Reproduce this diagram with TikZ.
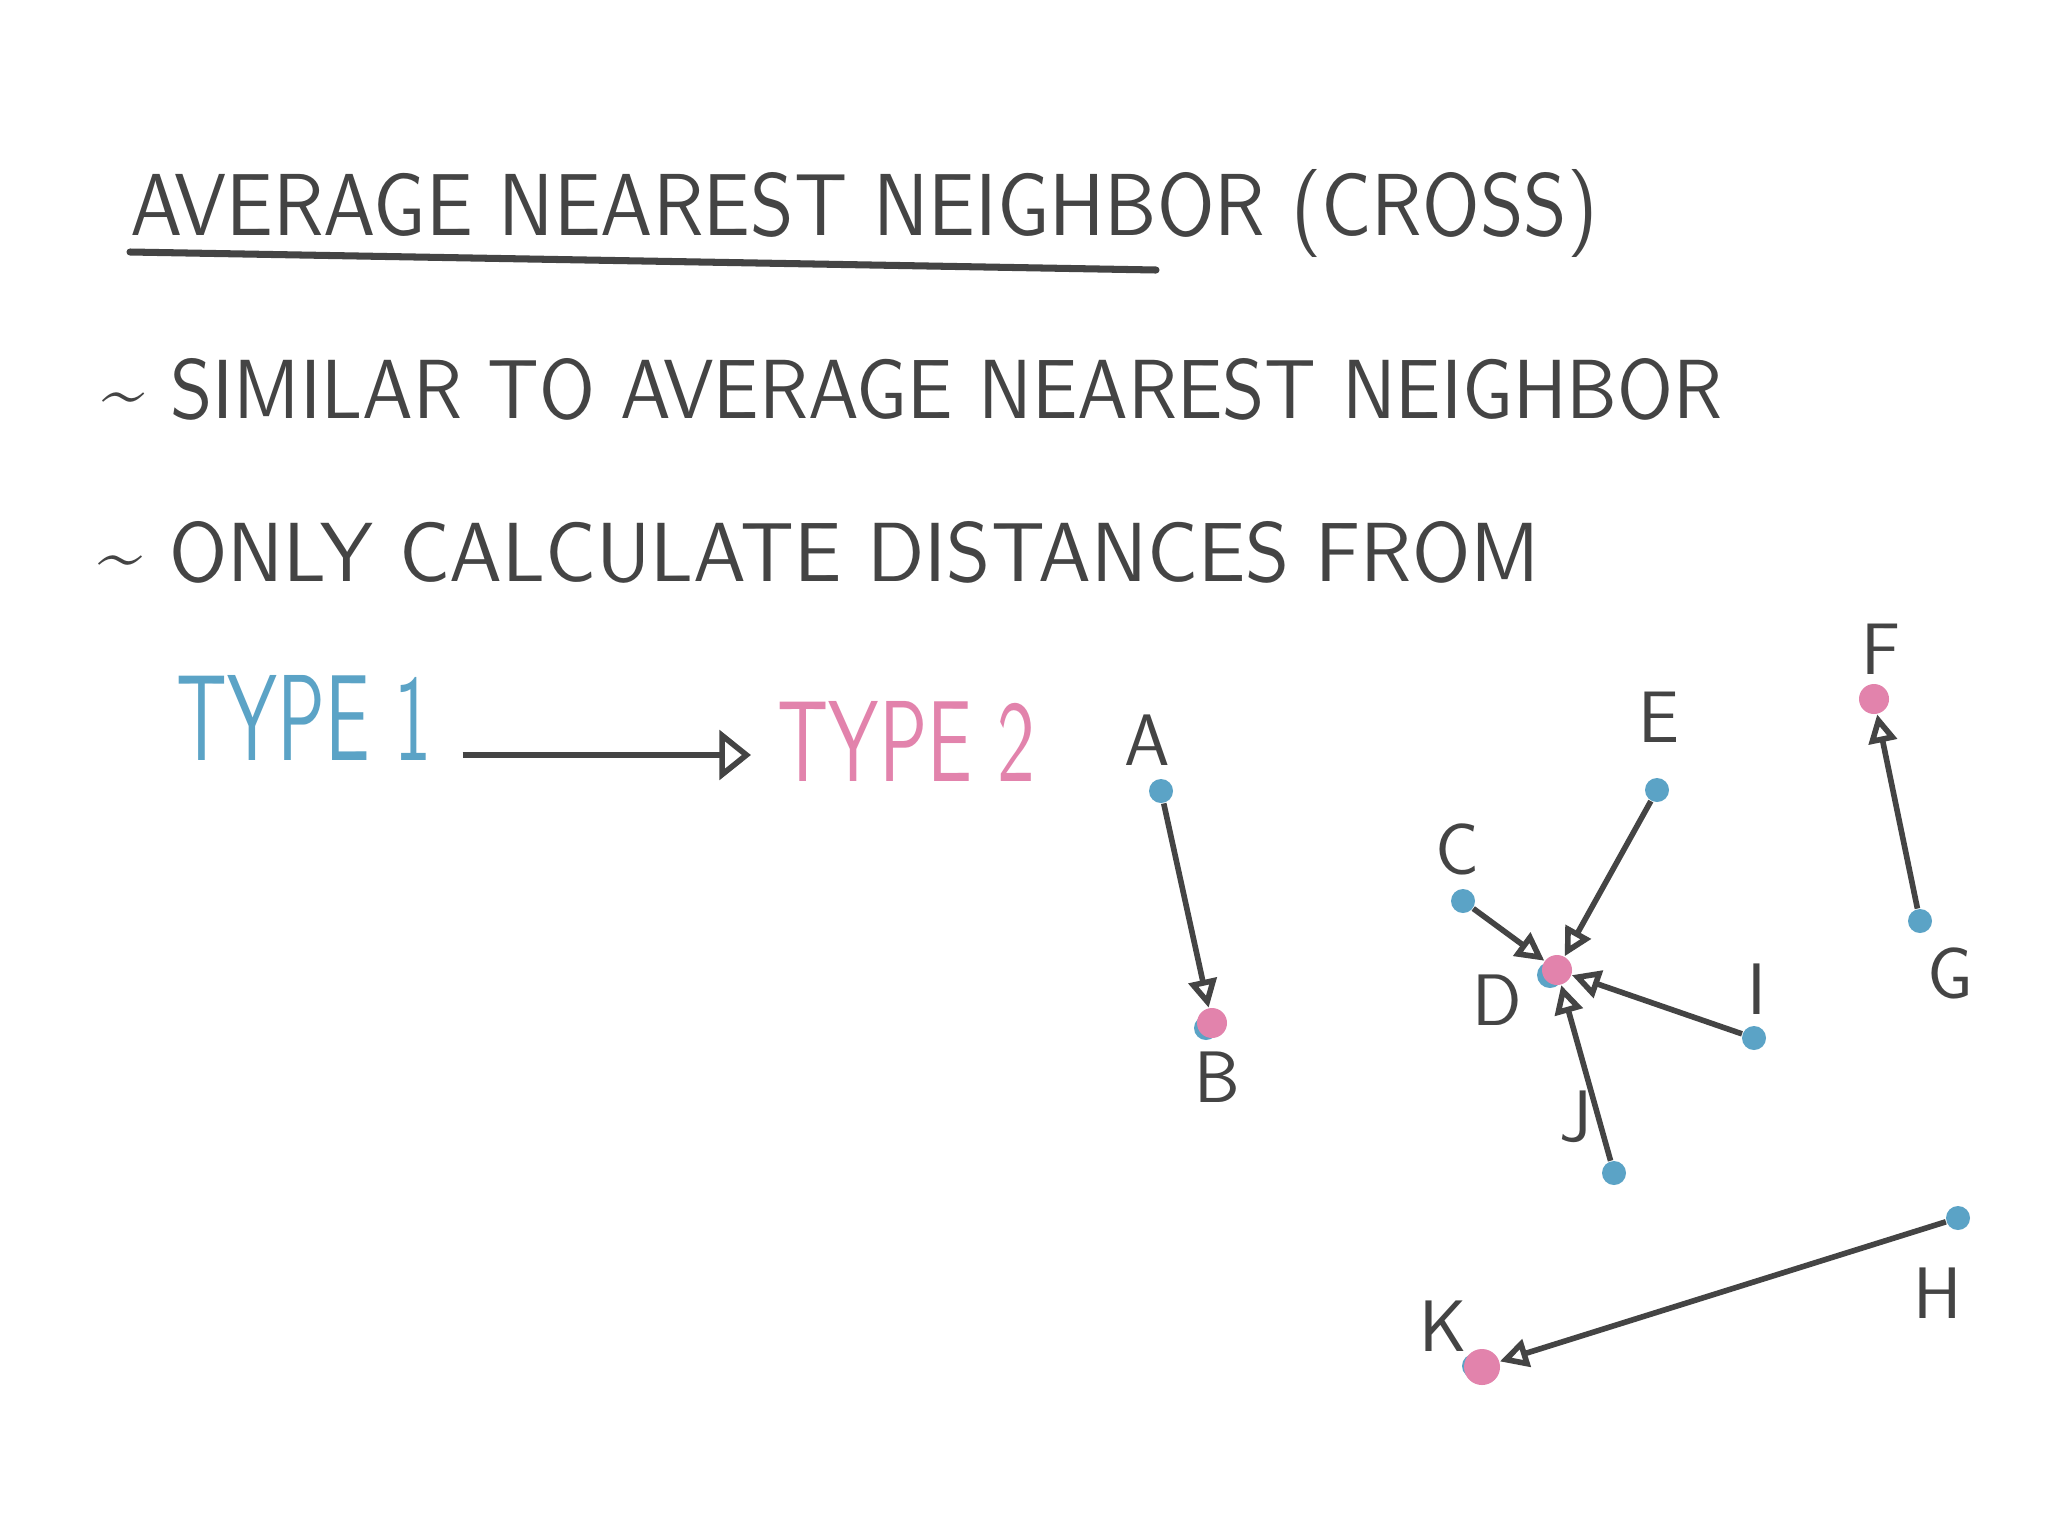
\documentclass[tikz,border=0pt]{standalone}
\usepackage{fontspec}
\usepackage{graphicx}
\usepackage{xcolor}
\usetikzlibrary{arrows.meta,positioning}

\definecolor{ink}{HTML}{444444}
\definecolor{typeone}{HTML}{5BA3C6}
\definecolor{typetwo}{HTML}{E283AC}

% stretch a line of text to the size of the handwriting
\newcommand{\handtext}[3]{\resizebox{#1}{#2}{#3}}

\begin{document}
\begin{tikzpicture}[x=0.01cm, y=-0.01cm, >={Triangle[open,length=8pt,width=8pt]},
  inkline/.style={draw=ink, line width=1.6pt},
  hand/.style={inner sep=0pt, font=\sffamily, text=ink},
  dotone/.style={circle, fill=typeone, minimum size=0.24cm, inner sep=0pt},
  dottwo/.style={circle, fill=typetwo, minimum size=0.3cm, inner sep=0pt},
  ptlabel/.style={inner sep=0pt, font=\sffamily\huge, text=ink}]
  \fill[white] (0,0) rectangle (2048,1536);
  \useasboundingbox (0,0) rectangle (2048,1536);

  % heading and bullets
  \node[hand, anchor=base west] (title) at (130,235)
    {\handtext{14.66cm}{0.66cm}{AVERAGE NEAREST NEIGHBOR (CROSS)}};
  \draw[inkline, line width=2pt, line cap=round] (130,252) -- (1156,270);
  \node[hand, anchor=base west] (bulletone) at (102,418)
    {\handtext{16.19cm}{0.6cm}{\textasciitilde\ SIMILAR TO AVERAGE NEAREST NEIGHBOR}};
  \node[hand, anchor=base west] (bullettwo) at (98,581)
    {\handtext{14.4cm}{0.6cm}{\textasciitilde\ ONLY CALCULATE DISTANCES FROM}};

  % type 1 -> type 2
  \node[hand, text=typeone, anchor=base west] (typeonetext) at (176,760)
    {\handtext{2.55cm}{0.85cm}{TYPE 1}};
  \node[hand, text=typetwo, anchor=base west] (typetwotext) at (777,781)
    {\handtext{2.57cm}{0.8cm}{TYPE 2}};
  \draw[inkline, -{Triangle[open,length=9pt,width=14pt]}]
    ([xshift=0.3cm, yshift=0.05cm]typeonetext.base east)
    -- ([xshift=-0.26cm, yshift=0.05cm]typeonetext.base east -| typetwotext.west);

  % blue marks under the pink points
  \fill[typeone] (1206,1028) circle (0.12cm);
  \fill[typeone] (1550,975) circle (0.13cm);
  \fill[typeone] (1474,1366) circle (0.12cm);

  % points
  \node[dotone] (a) at (1161,791) {};
  \node[dottwo] (b) at (1212,1023) {};
  \node[dotone] (c) at (1463,901) {};
  \node[dottwo] (d) at (1557,970) {};
  \node[dotone] (e) at (1657,790) {};
  \node[dotone] (i) at (1754,1038) {};
  \node[dotone] (j) at (1614,1173) {};
  \node[dottwo] (f) at (1874,699) {};
  \node[dotone] (g) at (1920,921) {};
  \node[dotone] (h) at (1958,1218) {};
  \node[dottwo, minimum size=0.36cm] (k) at (1482,1367) {};

  % point labels
  \node[ptlabel] (la) at (1147,740) {A};
  \node[ptlabel] (lb) at (1217,1077) {B};
  \node[ptlabel] (lc) at (1457,849) {C};
  \node[ptlabel] (ld) at (1497,1000) {D};
  \node[ptlabel] (le) at (1659,717) {E};
  \node[ptlabel] (li) at (1757,989) {I};
  \node[ptlabel] (lj) at (1576,1117) {J};
  \node[ptlabel] (lf) at (1881,649) {F};
  \node[ptlabel] (lg) at (1950,973) {G};
  \node[ptlabel] (lh) at (1938,1293) {H};
  \node[ptlabel] (lk) at (1443,1326) {K};

  % nearest type 2 neighbor
  \draw[inkline, ->] (a) -- (b);
  \draw[inkline, ->] (c) -- (d);
  \draw[inkline, ->] (e) -- (d);
  \draw[inkline, ->] (i) -- (d);
  \draw[inkline, ->] (j) -- (d);
  \draw[inkline, ->] (g) -- (f);
  \draw[inkline, ->] (h) -- (k);
\end{tikzpicture}
\end{document}
